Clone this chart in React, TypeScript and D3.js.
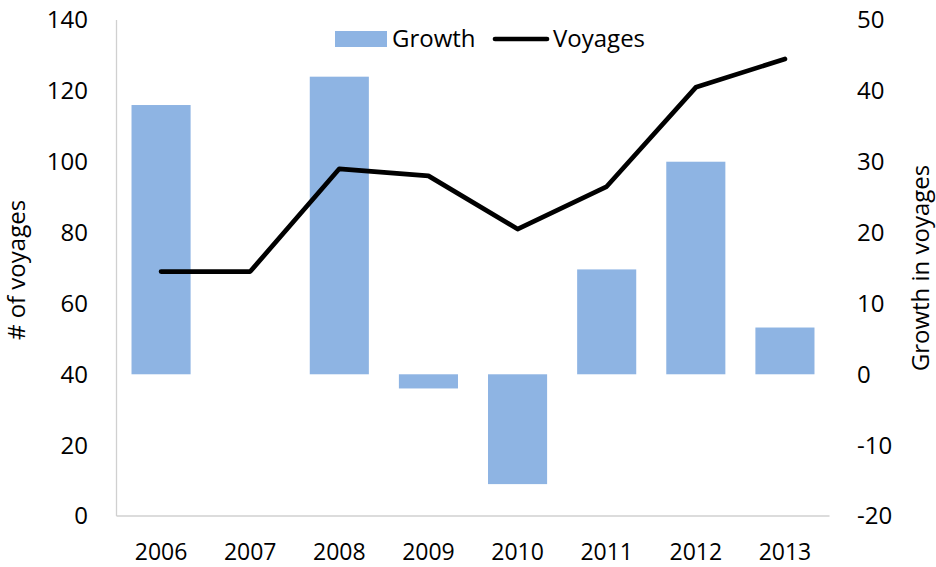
import React from "react";
import * as d3 from "d3";

const years = ["2006", "2007", "2008", "2009", "2010", "2011", "2012", "2013"];
const growth: (number | null)[] = [38, null, 42, -2, -15.5, 14.8, 30, 6.6];
const voyages = [69, 69, 98, 96, 81, 93, 121, 129];
const leftTicks = [0, 20, 40, 60, 80, 100, 120, 140];
const rightTicks = [-20, -10, 0, 10, 20, 30, 40, 50];

const W = 936;
const H = 567;
const FONT = "'Open Sans', sans-serif";
const FS = 24;

export default function App() {
  const left = 116.5;
  const right = 829.5;
  const top = 20;
  const bottom = 516;

  const x = d3.scaleBand<string>().domain(years).range([left, right]).paddingInner(0.337).paddingOuter(0.337 / 2);
  const xc = d3.scalePoint<string>().domain(years).range([left, right]).padding(0.5);
  const yL = d3.scaleLinear().domain([0, 140]).range([bottom, top]);
  const yR = d3.scaleLinear().domain([-20, 50]).range([bottom, top]);

  const line = d3
    .line<number>()
    .x((_, i) => xc(years[i]) as number)
    .y((d) => yL(d));

  return (
    <svg width={W} height={H} style={{ position: "absolute", left: 0, top: 0 }} fontFamily={FONT}>
      <rect x={0} y={0} width={W} height={H} fill="#fff" />
      {/* axes lines */}
      <line x1={left} x2={left} y1={top} y2={bottom} stroke="#d0d0d0" strokeWidth={1.3} />
      <line x1={left} x2={right} y1={bottom} y2={bottom} stroke="#d0d0d0" strokeWidth={1.3} />
      {/* bars */}
      {growth.map((g, i) =>
        g === null ? null : (
          <rect
            key={years[i]}
            x={x(years[i])}
            width={x.bandwidth()}
            y={Math.min(yR(g), yR(0))}
            height={Math.abs(yR(g) - yR(0))}
            fill="#8EB4E3"
          />
        )
      )}
      {/* line */}
      <path d={line(voyages) || ""} fill="none" stroke="#000" strokeWidth={4.7} strokeLinecap="round" strokeLinejoin="round" />
      {/* left ticks */}
      {leftTicks.map((t) => (
        <text key={"l" + t} x={88} y={yL(t)} dy="0.35em" textAnchor="end" fontSize={FS} fill="#000">
          {t}
        </text>
      ))}
      {/* right ticks */}
      {rightTicks.map((t) => (
        <text key={"r" + t} x={857} y={yR(t)} dy="0.35em" textAnchor="start" fontSize={FS} fill="#000">
          {t}
        </text>
      ))}
      {/* x labels */}
      {years.map((yv) => (
        <text key={"x" + yv} x={xc(yv)} y={560} textAnchor="middle" fontSize={23} fill="#000">
          {yv}
        </text>
      ))}
      {/* axis titles */}
      <text transform="translate(17,270) rotate(-90)" textAnchor="middle" dy="0.35em" fontSize={FS} fill="#000">
        # of voyages
      </text>
      <text transform="translate(921,268) rotate(-90)" textAnchor="middle" dy="0.35em" fontSize={FS} fill="#000">
        Growth in voyages
      </text>
      {/* legend */}
      <rect x={335} y={31} width={52} height={16} fill="#8EB4E3" />
      <text x={392} y={39} dy="0.35em" fontSize={FS} fill="#000">
        Growth
      </text>
      <line x1={495} x2={547} y1={39} y2={39} stroke="#000" strokeWidth={4.7} strokeLinecap="round" />
      <text x={553} y={39} dy="0.35em" fontSize={FS} fill="#000">
        Voyages
      </text>
    </svg>
  );
}
